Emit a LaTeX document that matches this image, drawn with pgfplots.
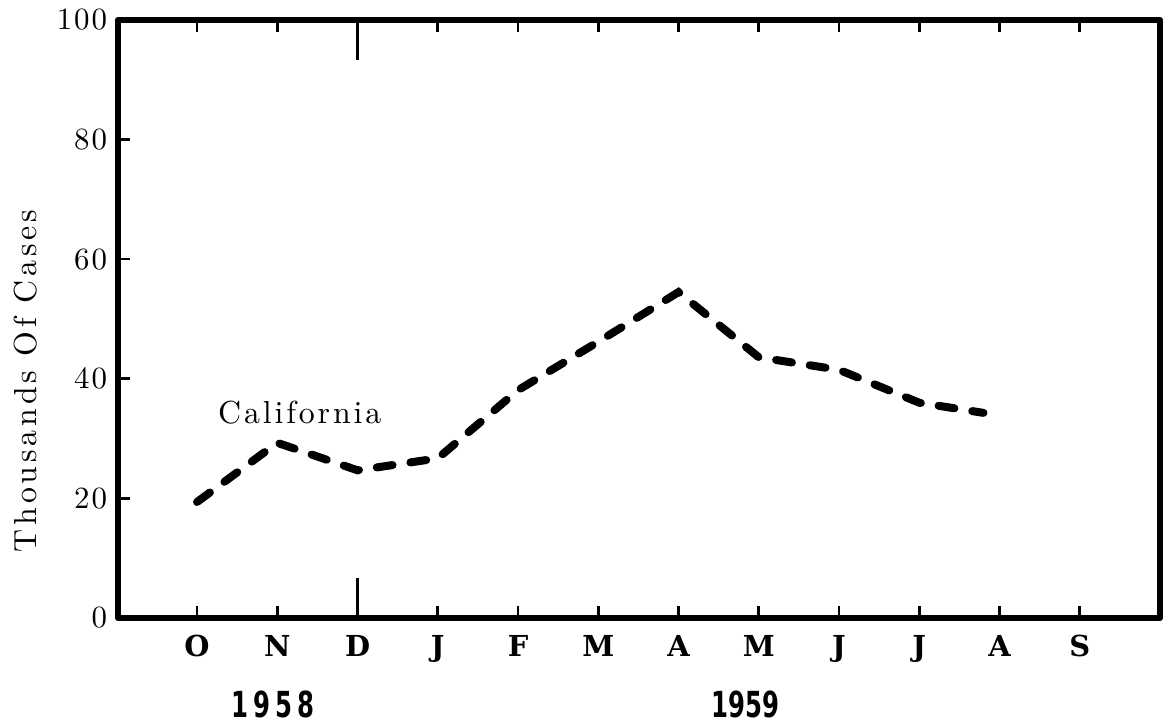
\documentclass[border=0pt]{standalone}
\usepackage{pgfplots}
\pgfplotsset{compat=1.18}
\usepackage{fontspec}
\setmainfont{lmroman10-regular.otf}
\newfontfamily\lblfont{lmroman10-regular.otf}[LetterSpace=12]
\newfontfamily\calfont{lmroman10-regular.otf}[LetterSpace=9]
\newfontfamily\numfont{lmroman10-regular.otf}[LetterSpace=6]
\newfontfamily\monfont{DejaVu Serif}
\newfontfamily\yearfont{DejaVu Sans}[FakeStretch=0.68]

\begin{document}
\begin{tikzpicture}
\begin{axis}[
    name=ax,
    scale only axis,
    width=521bp, height=299bp,
    xmin=-0.985, xmax=12.0,
    ymin=0, ymax=100,
    clip=false,
    axis line style={line width=3bp, line join=round},
    xtick align=inside,
    ytick align=inside,
    xtick={0,...,11},
    xticklabels={O,N,D,J,F,M,A,M,J,J,A,S},
    xtick pos=both,
    ytick={0,20,...,100},
    ytick pos=left,
    major tick length=6bp,
    xtick style={line width=1.3bp, black},
    ytick style={line width=1.3bp, black, draw=black},
    extra x ticks={2},
    extra x tick labels={},
    extra x tick style={/pgfplots/major tick length=20bp, line width=1.6bp},
    /pgf/number format/assume math mode=true,
    xticklabel style={font=\monfont\bfseries\fontsize{14.5}{16}\selectfont, yshift=-5bp},
    yticklabel style={font=\numfont\fontsize{15.5}{17}\selectfont, xshift=-2bp},
    ylabel={Thousands Of Cases},
    ylabel style={font=\lblfont\fontsize{16}{18}\selectfont,
        at={(axis description cs:-0.089,0.396)}, anchor=center},
]
\addplot[black, line width=4bp, line cap=round, dash pattern=on 8bp off 9bp]
    coordinates {(0,19.4) (1,29.3) (2,24.7) (3,26.7) (4,38.1) (5,46.2)
                 (6,54.5) (7,43.6) (8,41.5) (9,36.0) (9.8,34.3)};
\node[font=\calfont\fontsize{16}{18}\selectfont] at (axis cs:1.28,34.4) {California};
\node[font=\yearfont\bfseries\fontsize{18}{20}\selectfont] at (axis cs:0.95,-14.4)
    {1\hspace{2.5bp}9\hspace{2.5bp}5\hspace{2.5bp}8};
\node[font=\yearfont\bfseries\fontsize{18}{20}\selectfont] at (axis cs:6.83,-14.4) {1959};
\end{axis}
\pgfresetboundingbox
\path ([xshift=-59bp,yshift=-53bp]ax.south west) rectangle ([xshift=2.5bp,yshift=10bp]ax.north east);
\end{tikzpicture}
\end{document}
